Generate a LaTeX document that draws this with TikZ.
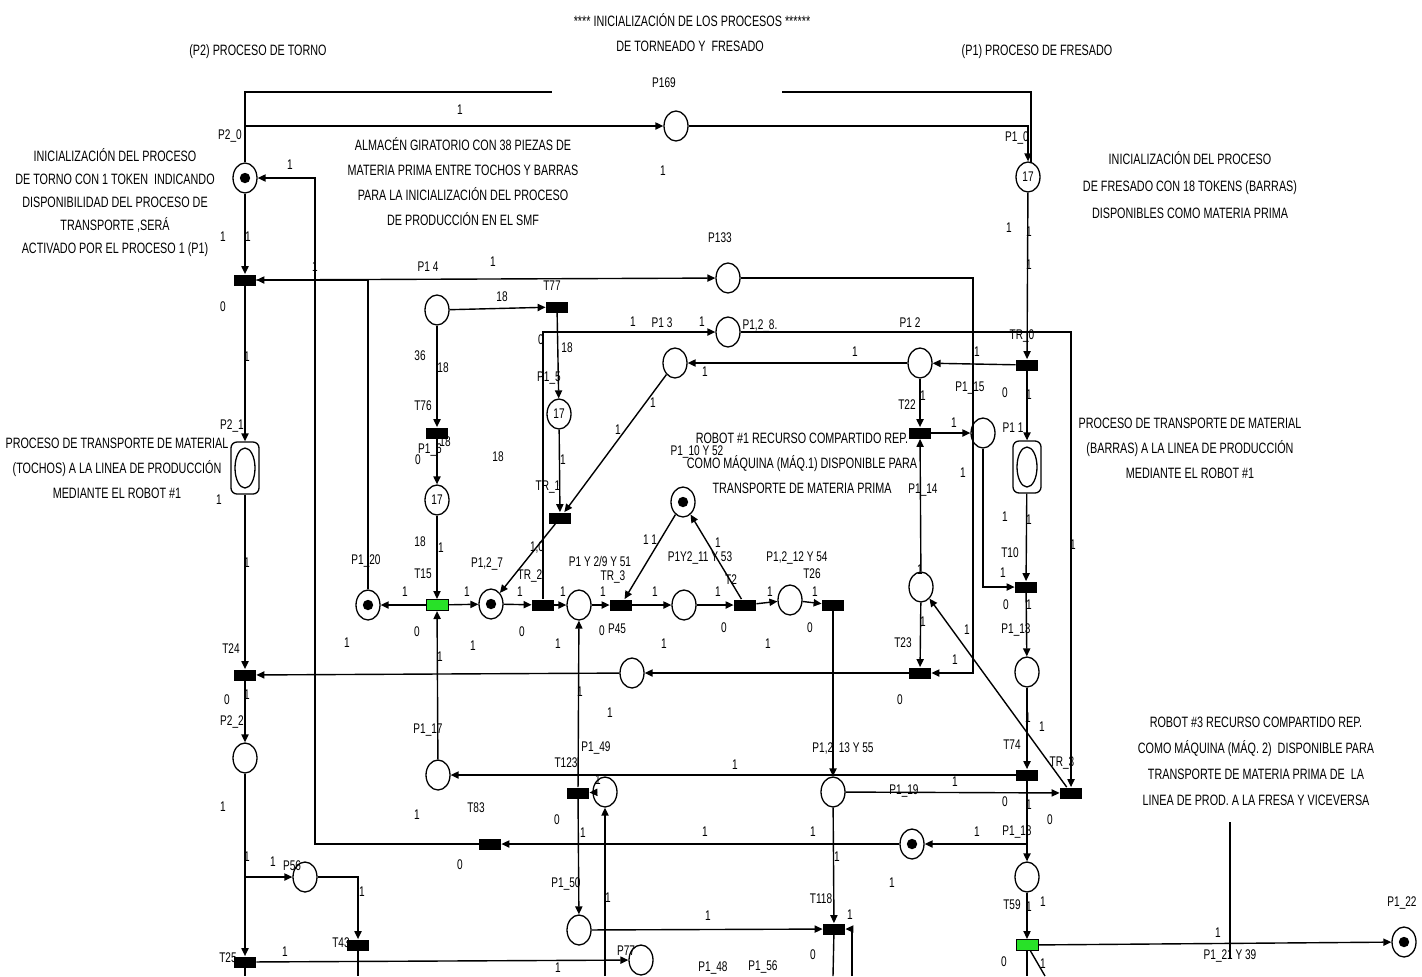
\documentclass[tikz,border=0pt]{standalone}
\usepackage{fontspec}
\setmainfont{Liberation Sans}[FakeStretch=0.72]
\usetikzlibrary{arrows.meta,shapes.geometric}
\definecolor{tgreen}{RGB}{40,225,40}
\newcounter{lc}
\newcommand\Lb[3]{\stepcounter{lc}\node[lb] (lb\arabic{lc}) at (#1,#2) {#3};}
\tikzset{
  pl/.style={ellipse,draw,line width=0.65pt,minimum width=12pt,minimum height=15pt,inner sep=0pt,font=\fontsize{7}{8}\selectfont},
  tk/.style={path picture={\fill (path picture bounding box.center) circle (2.6pt);}},
  dpl/.style={rectangle,draw,rounded corners=3pt,line width=0.65pt,minimum width=14pt,minimum height=26pt,inner sep=0pt,
     path picture={\draw[line width=0.65pt] (path picture bounding box.center) ellipse (5pt and 10pt);}},
  tr/.style={rectangle,fill=black,minimum width=11pt,minimum height=5.5pt,inner sep=0pt},
  trg/.style={rectangle,fill=tgreen,draw=black,line width=0.5pt,minimum width=11pt,minimum height=5.5pt,inner sep=0pt},
  lb/.style={inner sep=0pt,font=\fontsize{7}{8}\selectfont},
  ann/.style={inner sep=0pt,align=center,font=\fontsize{7.5}{11.5}\selectfont},
  ln/.style={line width=0.7pt},
  ar/.style={line width=0.7pt,-{Triangle[length=4pt,width=3.6pt]}},
}
\begin{document}
\begin{tikzpicture}[x=0.5pt,y=-0.5pt]
\useasboundingbox (0,0) rectangle (1422,976);
\fill[white] (0,0) rectangle (1422,976);
% ---------------- places
\node[pl,tk] (P20) at (245,178) {};
\node[pl] (P169) at (676,126) {};
\node[pl] (P10) at (1028,177) {17};
\node[pl] (P133) at (728,278) {};
\node[pl] (P14) at (437,310) {};
\node[pl] (P128) at (728,332) {};
\node[pl] (P13) at (675,363) {};
\node[pl] (P12) at (920,363) {};
\node[pl] (P115) at (983,433) {};
\node[dpl] (P11) at (1027,467) {};
\node[dpl] (P21) at (245,468) {};
\node[pl] (P15) at (559,414) {17};
\node[pl] (P16) at (437,500) {17};
\node[pl,tk] (P110) at (683,502) {};
\node[pl,tk] (P120) at (368,605) {};
\node[pl,tk] (P127) at (491,604) {};
\node[pl] (P1Y29) at (579,605) {};
\node[pl] (P1Y211) at (684,605) {};
\node[pl] (P1212) at (790,600) {};
\node[pl] (P114) at (921,587) {};
\node[pl] (Pc) at (632,673) {};
\node[pl] (P113) at (1027,672) {};
\node[pl] (P22) at (245,758) {};
\node[pl] (P117) at (438,775) {};
\node[pl] (P149) at (605,792) {};
\node[pl] (P1213) at (833,792) {};
\node[pl,tk] (Ptok) at (912,844) {};
\node[pl] (P118) at (1027,877) {};
\node[pl] (P56) at (305,877) {};
\node[pl] (P150) at (579,930) {};
\node[pl] (P77) at (641,960) {};
\node[pl,tk] (P122) at (1404,942) {};
% ---------------- transitions
\node[tr] (T19) at (245,280) {};
\node[tr] (T77) at (557,307) {};
\node[tr] (TR0) at (1027,365) {};
\node[tr] (T76) at (437,433) {};
\node[tr] (T22) at (920,433) {};
\node[tr] (TR1) at (560,518) {};
\node[tr] (T10) at (1026,587) {};
\node[trg] (T15) at (437,605) {};
\node[tr] (TR2) at (543,605) {};
\node[tr] (TR3) at (621,605) {};
\node[tr] (T2) at (745,605) {};
\node[tr] (T26) at (833,605) {};
\node[tr] (T24) at (245,675) {};
\node[tr] (T23) at (920,673) {};
\node[tr] (T74) at (1027,775) {};
\node[tr] (T123) at (578,793) {};
\node[tr] (TR3b) at (1071,793) {};
\node[tr] (T83) at (490,844) {};
\node[tr] (T118) at (834,929) {};
\node[tr] (T43) at (358,945) {};
\node[tr] (T25) at (245,962) {};
\node[trg] (T59) at (1027,945) {};
% ---------------- coordinates
\coordinate (c1) at (245,126);
\coordinate (c2) at (1027,844);
\coordinate (c3) at (245,877);
\coordinate (b1) at (605,976);
\coordinate (b2) at (852,976);
\coordinate (b3) at (833,976);
\coordinate (b4) at (358,976);
\coordinate (b5) at (245,976);
\coordinate (b6) at (1027,976);
\coordinate (b7) at (1045,976);
\coordinate (g1) at (552,92);
\coordinate (g2) at (782,92);
\coordinate (g3) at (1031,163);
\coordinate (k1) at (973,673);
\coordinate (k2) at (315,178);
\coordinate (r1) at (1230,822);
\coordinate (r2) at (1230,958);
% ---------------- arcs
\draw[ln] (P20) |- (g1);
\draw[ln] (g2) -| (g3);
\draw[ar] (c1) -- (P169);
\draw[ar] (P169) -| (P10);
\draw[ar] (P10) -- (TR0);
\draw[ar] (TR0) -- (P12);
\draw[ar] (P12) -- (P13);
\draw[ar] (P12) -- (T22);
\draw[ar] (T22) -- (P115);
\draw[ar] (P114) -- (T22);
\draw[ar] (P115) |- (T10);
\draw[ar] (TR0) -- (P11);
\draw[ar] (P11) -- (T10);
\draw[ar] (T10) -- (P113);
\draw[ar] (P113) -- (T74);
\draw[ar] (T74) -- (P118);
\draw[ar] (P118) -- (T59);
\draw[ar] (P114) -- (T23);
\draw[ar] (T23) -- (Pc);
\draw[ar] (Pc) -- (T24);
\draw[ar] (P133) -| (k1) -- (T23);
\draw[ar] (P120) |- (T19);
\draw[ar] (T19) -- (P133);
\draw[ar] (P20) -- (T19);
\draw[ar] (T19) -- (P21);
\draw[ar] (P21) -- (T24);
\draw[ar] (T24) -- (P22);
\draw[ar] (P22) -- (T25);
\draw[ar] (T83) -| (k2) -- (P20);
\draw[ar] (Ptok) -- (T83);
\draw[ar] (c2) -- (Ptok);
\draw[ar] (T74) -- (P117);
\draw[ar] (P117) -- (T15);
\draw[ar] (P1213) -- (TR3b);
\draw[ar] (P128) -| (TR3b);
\draw[ar] (TR3b) -- (P114);
\draw[ar] (TR2) |- (P128);
\draw[ar] (P14) -- (T77);
\draw[ar] (T77) -- (P15);
\draw[ar] (P15) -- (TR1);
\draw[ar] (P13) -- (TR1);
\draw[ar] (TR1) -- (P127);
\draw[ar] (P14) -- (T76);
\draw[ar] (T76) -- (P16);
\draw[ar] (P16) -- (T15);
\draw[ar] (T15) -- (P120);
\draw[ar] (T15) -- (P127);
\draw[ar] (P127) -- (TR2);
\draw[ar] (TR2) -- (P1Y29);
\draw[ar] (P1Y29) -- (TR3);
\draw[ar] (TR3) -- (P1Y211);
\draw[ar] (P1Y211) -- (T2);
\draw[ar] (T2) -- (P1212);
\draw[ar] (P1212) -- (T26);
\draw[ar] (T26) -- (P1213);
\draw[ar] (P1213) -- (T118);
\draw[ar] (P110) -- (TR3);
\draw[ar] (T2) -- (P110);
\draw[ar] (T123) -- (P1Y29);
\draw[ar] (T123) -- (P150);
\draw[ar] (P149) -- (T123);
\draw[ar] (b1) -- (P149);
\draw[ar] (P150) -- (T118);
\draw[ar] (b2) |- (T118);
\draw[ln] (T118) -- (b3);
\draw[ar] (c3) -- (P56);
\draw[ar] (P56) -| (T43);
\draw[ln] (T43) -- (b4);
\draw[ln] (T25) -- (b5);
\draw[ar] (T25) -- (P77);
\draw[ar] (T59) -- (P122);
\draw[ln] (T59) -- (b6);
\draw[ln] (T59) -- (b7);
\draw[ln] (r1) -- (r2);
% ---------------- annotations
\node[ann] (a1) at (692,20) {**** INICIALIZACIÓN DE LOS PROCESOS ******};
\node[ann] (a2) at (690,46) {DE TORNEADO Y \ FRESADO};
\node[ann] (a3) at (258,52) {(P2) PROCESO DE TORNO};
\node[ann] (a4) at (1037,52) {(P1) PROCESO DE FRESADO};
\node[ann,font=\fontsize{7.5}{11.5}\selectfont] (a5) at (115,203) {INICIALIZACIÓN DEL PROCESO\\DE TORNO CON 1 TOKEN \ INDICANDO\\DISPONIBILIDAD DEL PROCESO DE\\TRANSPORTE ,SERÁ\\ACTIVADO POR EL PROCESO 1 (P1)};
\node[ann,font=\fontsize{7.5}{12.5}\selectfont] (a6) at (463,182) {ALMACÉN GIRATORIO CON 38 PIEZAS DE\\MATERIA PRIMA ENTRE TOCHOS Y BARRAS\\PARA LA INICIALIZACIÓN DEL PROCESO\\DE PRODUCCIÓN EN EL SMF};
\node[ann,font=\fontsize{7.5}{13.5}\selectfont] (a7) at (1190,185) {INICIALIZACIÓN DEL PROCESO\\DE FRESADO CON 18 TOKENS (BARRAS)\\DISPONIBLES COMO MATERIA PRIMA};
\node[ann,font=\fontsize{7.5}{12.5}\selectfont] (a8) at (117,468) {PROCESO DE TRANSPORTE DE MATERIAL\\(TOCHOS) A LA LINEA DE PRODUCCIÓN\\MEDIANTE EL ROBOT \#1};
\node[ann,font=\fontsize{7.5}{12.5}\selectfont] (a9) at (802,463) {ROBOT \#1 RECURSO COMPARTIDO REP.\\COMO MÁQUINA (MÁQ.1) DISPONIBLE PARA\\TRANSPORTE DE MATERIA PRIMA};
\node[ann,font=\fontsize{7.5}{12.5}\selectfont] (a10) at (1190,448) {PROCESO DE TRANSPORTE DE MATERIAL\\(BARRAS) A LA LINEA DE PRODUCCIÓN\\MEDIANTE EL ROBOT \#1};
\node[ann,font=\fontsize{7.5}{13}\selectfont] (a11) at (1256,761) {ROBOT \#3 RECURSO COMPARTIDO REP.\\COMO MÁQUINA (MÁQ. 2) \ DISPONIBLE PARA\\TRANSPORTE DE MATERIA PRIMA DE \ LA\\LINEA DE PROD. A LA FRESA Y VICEVERSA};
% ---------------- place / transition names
\Lb{230}{136}{P2\_0}
\Lb{664}{83}{P169}
\Lb{1017}{138}{P1\_0}
\Lb{720}{238}{P133}
\Lb{428}{267}{P1 4}
\Lb{662}{323}{P1 3}
\Lb{760}{326}{P1,2\_8.}
\Lb{910}{323}{P1 2}
\Lb{1022}{336}{TR\_0}
\Lb{552}{286}{T77}
\Lb{423}{406}{T76}
\Lb{549}{378}{P1\_5}
\Lb{907}{405}{T22}
\Lb{970}{388}{P1\_15}
\Lb{1013}{428}{P1 1}
\Lb{232}{426}{P2\_1}
\Lb{430}{450}{P1\_6}
\Lb{697}{452}{P1\_10 Y 52}
\Lb{548}{487}{TR\_1}
\Lb{923}{490}{P1\_14}
\Lb{1010}{553}{T10}
\Lb{366}{561}{P1\_20}
\Lb{423}{574}{T15}
\Lb{487}{564}{P1,2\_7}
\Lb{530}{576}{TR\_2}
\Lb{600}{561}{P1 Y 2/9 Y 51}
\Lb{613}{577}{TR\_3}
\Lb{700}{558}{P1Y2\_11 Y 53}
\Lb{797}{558}{P1,2\_12 Y 54}
\Lb{731}{580}{T2}
\Lb{812}{574}{T26}
\Lb{617}{629}{P45}
\Lb{1016}{630}{P1\_13}
\Lb{903}{643}{T23}
\Lb{231}{649}{T24}
\Lb{232}{722}{P2\_2}
\Lb{428}{730}{P1\_17}
\Lb{596}{748}{P1\_49}
\Lb{566}{763}{T123}
\Lb{843}{748}{P1,2 \ 13 Y 55}
\Lb{1012}{745}{T74}
\Lb{1062}{763}{TR\_3}
\Lb{904}{791}{P1\_19}
\Lb{1017}{832}{P1\_18}
\Lb{476}{808}{T83}
\Lb{292}{866}{P56}
\Lb{566}{884}{P1\_50}
\Lb{821}{899}{T118}
\Lb{1012}{905}{T59}
\Lb{341}{943}{T43}
\Lb{228}{958}{T25}
\Lb{626}{951}{P77}
\Lb{713}{968}{P1\_48}
\Lb{763}{967}{P1\_56}
\Lb{1402}{903}{P1\_22}
\Lb{1230}{956}{P1\_21 Y 39}
% ---------------- weights
\Lb{460}{110}{1}
\Lb{663}{171}{1}
\Lb{290}{165}{1}
\Lb{223}{237}{1}
\Lb{248}{237}{1}
\Lb{223}{307}{0}
\Lb{315}{267}{1}
\Lb{493}{262}{1}
\Lb{502}{297}{18}
\Lb{1009}{228}{1}
\Lb{1029}{232}{1}
\Lb{1029}{265}{1}
\Lb{633}{322}{1}
\Lb{702}{322}{1}
\Lb{541}{340}{0}
\Lb{567}{348}{18}
\Lb{855}{352}{1}
\Lb{705}{372}{1}
\Lb{977}{352}{1}
\Lb{420}{356}{36}
\Lb{443}{368}{18}
\Lb{923}{396}{1}
\Lb{1005}{393}{0}
\Lb{1029}{395}{1}
\Lb{954}{423}{1}
\Lb{445}{442}{18}
\Lb{418}{460}{0}
\Lb{498}{457}{18}
\Lb{653}{403}{1}
\Lb{618}{430}{1}
\Lb{563}{460}{1}
\Lb{963}{473}{1}
\Lb{1005}{517}{1}
\Lb{1029}{520}{1}
\Lb{247}{357}{1}
\Lb{219}{500}{1}
\Lb{247}{563}{1}
\Lb{420}{542}{18}
\Lb{441}{548}{1}
\Lb{537}{547}{1,0}
\Lb{650}{540}{1 1}
\Lb{718}{543}{1}
\Lb{1073}{545}{1}
\Lb{920}{570}{1}
\Lb{1003}{573}{1}
\Lb{405}{592}{1}
\Lb{467}{592}{1}
\Lb{520}{592}{1}
\Lb{563}{592}{1}
\Lb{603}{592}{1}
\Lb{655}{592}{1}
\Lb{718}{592}{1}
\Lb{770}{592}{1}
\Lb{815}{592}{1}
\Lb{417}{632}{0}
\Lb{522}{632}{0}
\Lb{602}{631}{0}
\Lb{724}{628}{0}
\Lb{810}{628}{0}
\Lb{1006}{605}{0}
\Lb{1029}{605}{1}
\Lb{347}{643}{1}
\Lb{473}{646}{1}
\Lb{558}{644}{1}
\Lb{664}{644}{1}
\Lb{768}{644}{1}
\Lb{923}{622}{1}
\Lb{967}{630}{1}
\Lb{955}{660}{1}
\Lb{440}{657}{1}
\Lb{247}{695}{1}
\Lb{227}{700}{0}
\Lb{900}{700}{0}
\Lb{580}{692}{1}
\Lb{610}{713}{1}
\Lb{1028}{718}{1}
\Lb{1042}{727}{1}
\Lb{735}{765}{1}
\Lb{955}{782}{1}
\Lb{598}{780}{1}
\Lb{1005}{802}{0}
\Lb{1029}{805}{1}
\Lb{1050}{820}{0}
\Lb{223}{807}{1}
\Lb{417}{815}{1}
\Lb{557}{820}{0}
\Lb{583}{833}{1}
\Lb{705}{832}{1}
\Lb{813}{832}{1}
\Lb{977}{832}{1}
\Lb{837}{857}{1}
\Lb{892}{883}{1}
\Lb{247}{857}{1}
\Lb{273}{862}{1}
\Lb{460}{865}{0}
\Lb{362}{892}{1}
\Lb{608}{898}{1}
\Lb{708}{916}{1}
\Lb{850}{915}{1}
\Lb{1029}{907}{1}
\Lb{1043}{902}{1}
\Lb{285}{952}{1}
\Lb{813}{955}{0}
\Lb{1004}{962}{0}
\Lb{1043}{964}{1}
\Lb{558}{968}{1}
\Lb{1218}{933}{1}
\end{tikzpicture}
\end{document}
